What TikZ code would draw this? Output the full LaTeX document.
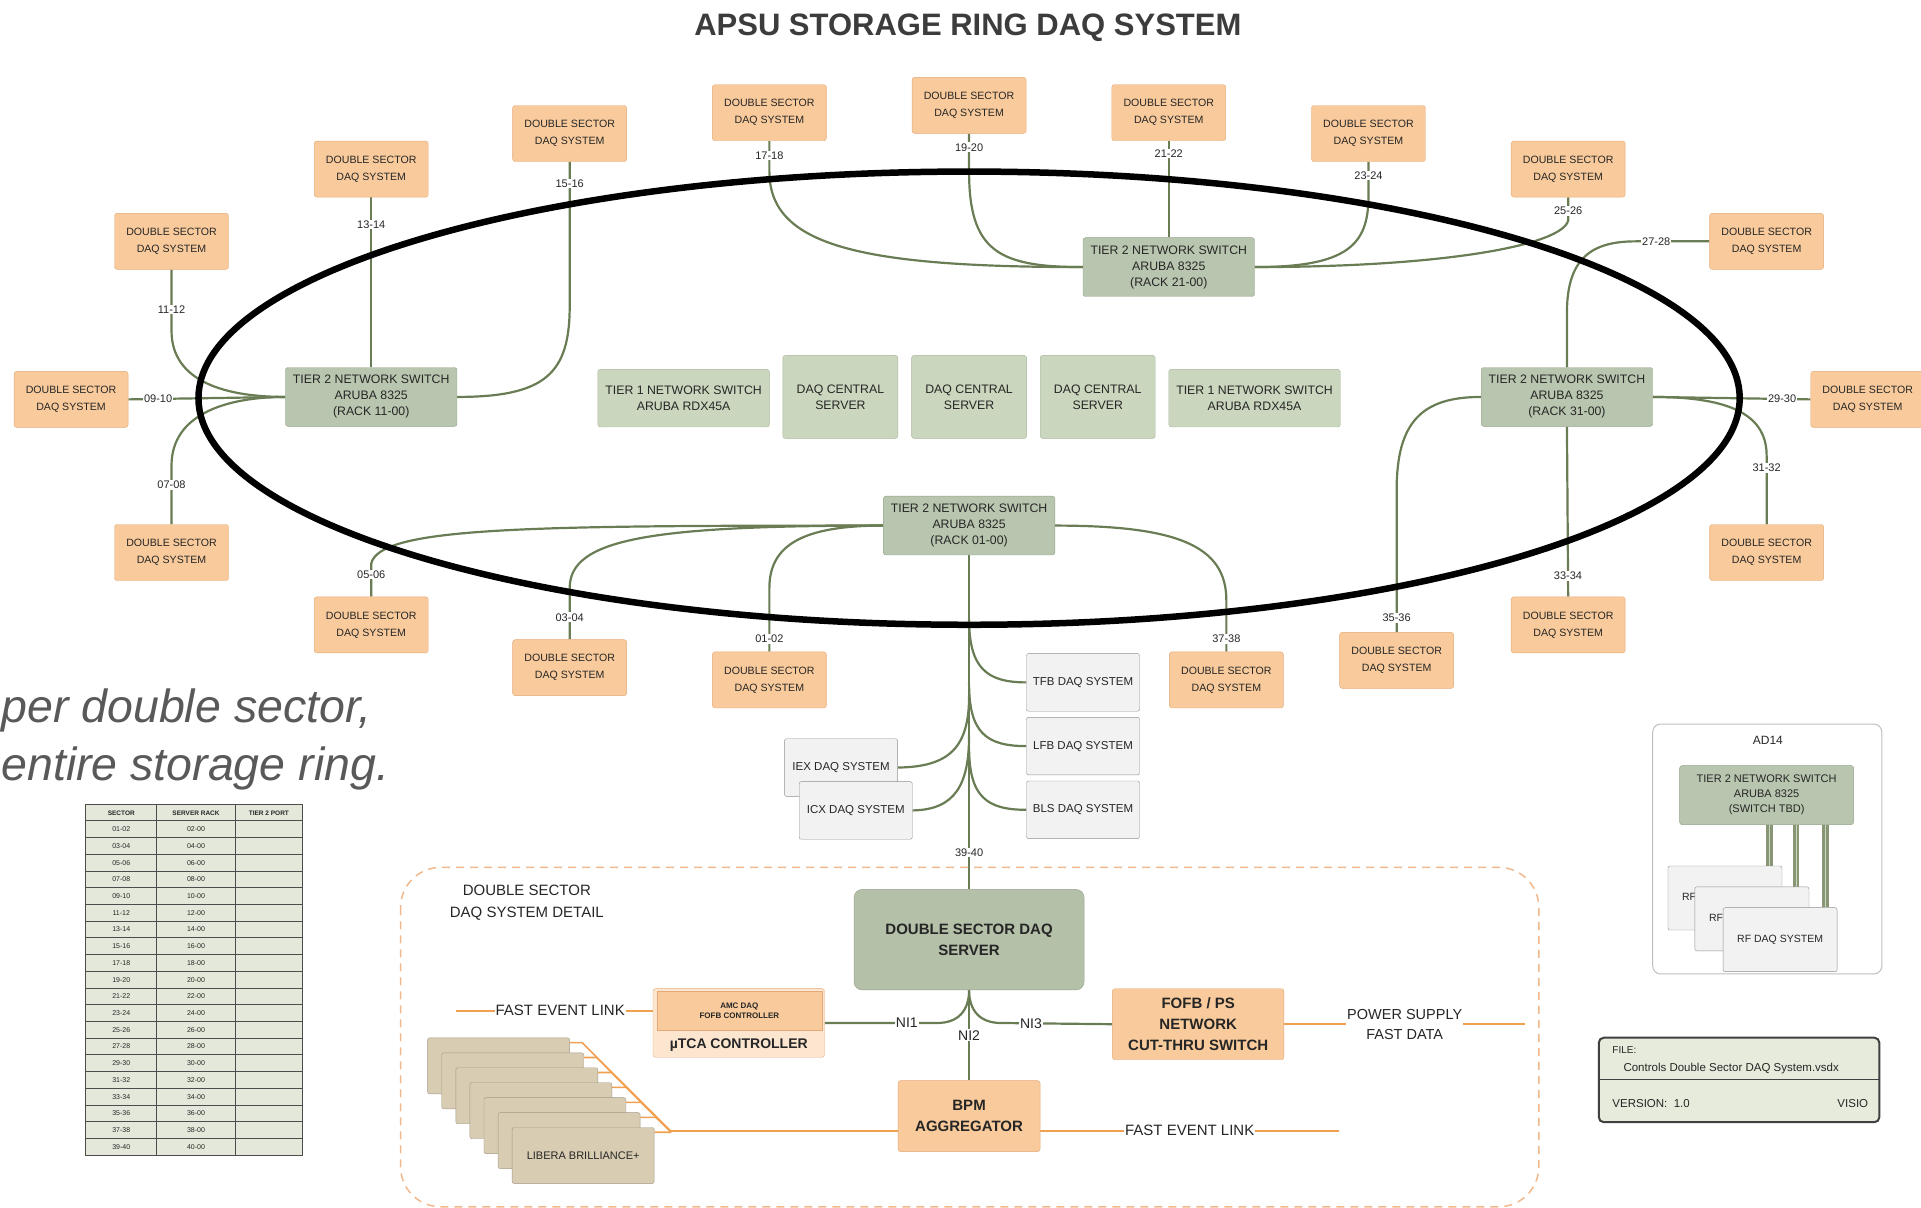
\documentclass[tikz,border=0pt]{standalone}
\usepackage{fontspec}
\setmainfont{Liberation Sans}
\usetikzlibrary{calc}
\definecolor{dsf}{HTML}{F9CB9C}
\definecolor{dsb}{HTML}{E3AA78}
\definecolor{tf}{HTML}{B9C6AF}
\definecolor{tb}{HTML}{93A288}
\definecolor{tlf}{HTML}{CAD6BD}
\definecolor{tlb}{HTML}{A8B69B}
\definecolor{srvf}{HTML}{B4C0A8}
\definecolor{gbf}{HTML}{F2F2F2}
\definecolor{gbb}{HTML}{8F8F8F}
\definecolor{cn}{HTML}{6A7C54}
\definecolor{olc}{HTML}{F0A050}
\definecolor{txt}{HTML}{262626}
\definecolor{libf}{HTML}{D8CCB2}
\definecolor{libb}{HTML}{A39A88}
\definecolor{tabf}{HTML}{E3E8DA}
\definecolor{filef}{HTML}{E6EBDC}
\definecolor{utf}{HTML}{FDE6D0}
\definecolor{dashc}{HTML}{F0B88C}
\definecolor{gtxt}{HTML}{595959}
\newcommand\fsz[2]{\fontsize{#1}{#2}\selectfont}
\pgfdeclarelayer{bg}
\pgfsetlayers{bg,main}
\begin{document}
\begin{tikzpicture}[x=1.2251pt,y=-1.2251pt,
  ds/.style={draw=dsb,fill=dsf,rounded corners=2.5pt,minimum width=114pt,minimum height=56pt,inner sep=1pt,align=center,text=txt,font=\fsz{10.6}{17}},
  tsw/.style={draw=tb,fill=tf,rounded corners=2.5pt,minimum width=171.5pt,minimum height=58.8pt,inner sep=1pt,align=center,text=txt,font=\fsz{12.3}{16}},
  tone/.style={draw=tlb,fill=tlf,rounded corners=2.5pt,minimum width=171.5pt,minimum height=57.6pt,inner sep=1pt,align=center,text=txt,font=\fsz{12.3}{16}},
  dcs/.style={draw=tlb,fill=tlf,rounded corners=2.5pt,minimum width=115pt,minimum height=83pt,inner sep=1pt,align=center,text=txt,font=\fsz{12.3}{16}},
  gb/.style={draw=gbb,fill=gbf,rounded corners=2pt,minimum width=113pt,minimum height=57.6pt,inner sep=1pt,align=center,text=txt,font=\fsz{11.5}{14}},
  conn/.style={draw=cn,line width=2.2pt},
  lbl/.style={fill=white,inner sep=1pt,text=txt,font=\fsz{11}{11}},
  oline/.style={draw=olc,line width=2.2pt},
  ob/.style={draw=dsb,fill=dsf,rounded corners=2.5pt,inner sep=1pt,align=center,text=txt,font=\bfseries\fsz{15}{21}},
  lib/.style={draw=libb,fill=libf,rounded corners=2pt,minimum width=142pt,minimum height=56pt,inner sep=1pt,text=txt,font=\fsz{11}{13}},
  tcell/.style={inner sep=0pt,text=txt,font=\fsz{7}{8}},
  rfl/.style={draw=cn!80,line width=3pt,double=tlf,double distance=0.8pt}
]
\useasboundingbox (0,0) rectangle (1568,986);
\clip (0,0) rectangle (1568,986);

% title
\node[text=txt!90,font=\bfseries\fsz{31}{31}] (title) at (790,23) {APSU STORAGE RING DAQ SYSTEM};

% double sector boxes
\node[ds] (d0910) at (58,326) {DOUBLE SECTOR\\DAQ SYSTEM};
\node[ds] (d1112) at (140,197) {DOUBLE SECTOR\\DAQ SYSTEM};
\node[ds] (d1314) at (303,138) {DOUBLE SECTOR\\DAQ SYSTEM};
\node[ds] (d1516) at (465,109) {DOUBLE SECTOR\\DAQ SYSTEM};
\node[ds] (d1718) at (628,92) {DOUBLE SECTOR\\DAQ SYSTEM};
\node[ds] (d1920) at (791,86) {DOUBLE SECTOR\\DAQ SYSTEM};
\node[ds] (d2122) at (954,92) {DOUBLE SECTOR\\DAQ SYSTEM};
\node[ds] (d2324) at (1117,109) {DOUBLE SECTOR\\DAQ SYSTEM};
\node[ds] (d2526) at (1280,138) {DOUBLE SECTOR\\DAQ SYSTEM};
\node[ds] (d2728) at (1442,197) {DOUBLE SECTOR\\DAQ SYSTEM};
\node[ds] (d2930) at (1524.5,326) {DOUBLE SECTOR\\DAQ SYSTEM};
\node[ds] (d3132) at (1442,451) {DOUBLE SECTOR\\DAQ SYSTEM};
\node[ds] (d3334) at (1280,510) {DOUBLE SECTOR\\DAQ SYSTEM};
\node[ds] (d3536) at (1140,539) {DOUBLE SECTOR\\DAQ SYSTEM};
\node[ds] (d3738) at (1001,555) {DOUBLE SECTOR\\DAQ SYSTEM};
\node[ds] (d0102) at (628,555) {DOUBLE SECTOR\\DAQ SYSTEM};
\node[ds] (d0304) at (465,545) {DOUBLE SECTOR\\DAQ SYSTEM};
\node[ds] (d0506) at (303,510) {DOUBLE SECTOR\\DAQ SYSTEM};
\node[ds] (d0708) at (140,451) {DOUBLE SECTOR\\DAQ SYSTEM};

% tier 2 switches
\node[tsw] (L) at (303,324) {TIER 2 NETWORK SWITCH\\ARUBA 8325\\(RACK 11-00)};
\node[tsw] (T) at (954,218) {TIER 2 NETWORK SWITCH\\ARUBA 8325\\(RACK 21-00)};
\node[tsw] (R) at (1279,324) {TIER 2 NETWORK SWITCH\\ARUBA 8325\\(RACK 31-00)};
\node[tsw] (B) at (791,429) {TIER 2 NETWORK SWITCH\\ARUBA 8325\\(RACK 01-00)};

% center row
\node[tone] (t1a) at (558,325) {TIER 1 NETWORK SWITCH\\ARUBA RDX45A};
\node[dcs] (dc1) at (686,324) {DAQ CENTRAL\\SERVER};
\node[dcs] (dc2) at (791,324) {DAQ CENTRAL\\SERVER};
\node[dcs] (dc3) at (896,324) {DAQ CENTRAL\\SERVER};
\node[tone] (t1b) at (1024,325) {TIER 1 NETWORK SWITCH\\ARUBA RDX45A};

% other DAQ systems
\node[gb] (tfb) at (884,557) {TFB DAQ SYSTEM};
\node[gb] (lfb) at (884,609) {LFB DAQ SYSTEM};
\node[gb] (bls) at (884,661) {BLS DAQ SYSTEM};
\node[gb] (iex) at (686.5,626.5) {IEX DAQ SYSTEM};
\node[gb] (icx) at (698.5,661.5) {ICX DAQ SYSTEM};

% detail
\node[draw=srvf!85!black,fill=srvf,rounded corners=8pt,minimum width=230pt,minimum height=100.5pt,align=center,text=txt,font=\bfseries\fsz{15}{21}] (srv) at (791,767) {DOUBLE SECTOR DAQ\\SERVER};
\node[draw=dsb,fill=utf,rounded corners=2.5pt,minimum width=171.5pt,minimum height=68.6pt,
  label={[anchor=south,yshift=3pt,text=txt,font=\bfseries\fsz{14}{14}]south:µTCA CONTROLLER}] (utca) at (603,835) {};
\node[draw=dsb,fill=dsf,minimum width=165pt,minimum height=39pt,align=center,text=txt,font=\bfseries\fsz{8}{10},inner sep=1pt] (amc) at (603.5,825) {AMC DAQ\\FOFB CONTROLLER};
\node[ob,minimum width=171.5pt,minimum height=71pt] (fofb) at (978,836) {FOFB / PS\\NETWORK\\CUT-THRU SWITCH};
\node[ob,minimum width=142pt,minimum height=71pt] (bpm) at (791,911) {BPM\\AGGREGATOR};
\foreach \k in {0,...,6}{
  \node[lib] (lib\k) at ({407+11.5*\k},{870+12.2*\k}) {LIBERA BRILLIANCE+};
}
\node[align=center,text=txt,font=\fsz{15}{22}] (dtitle) at (430,737) {DOUBLE SECTOR\\DAQ SYSTEM DETAIL};
\coordinate (fel1) at (372,825);
\coordinate (psend) at (1245,836);
\coordinate (fel2) at (1093,923);
\coordinate (M) at (547,923);

% trunk coordinates
\coordinate (tb1) at (791,505);
\coordinate (tb2) at (791,558);
\coordinate (tb3) at (791,610);
\coordinate (tb4) at (791,568);
\coordinate (tb5) at (791,600);

% AD14 nodes
\node[text=txt,font=\fsz{12}{12}] (ad14) at (1443,604) {AD14};
\node[tsw,minimum width=174pt,minimum height=59pt,font=\fsz{11}{15}] (ad14sw) at (1442,649) {TIER 2 NETWORK SWITCH\\ARUBA 8325\\(SWITCH TBD)};
\node[gb,minimum width=114pt,minimum height=64pt,font=\fsz{10.5}{12}] (rf1) at (1408,733) {RF DAQ SYSTEM};
\node[gb,minimum width=114pt,minimum height=64pt,font=\fsz{10.5}{12}] (rf2) at (1430,750) {RF DAQ SYSTEM};
\node[gb,minimum width=114pt,minimum height=64pt,font=\fsz{10.5}{12}] (rf3) at (1453,767) {RF DAQ SYSTEM};

\begin{pgfonlayer}{bg}
% left switch
\draw[conn] (L.west) -- node[lbl,pos=0.81]{09-10} (d0910.east);
\draw[conn] (d1112.south) -- node[lbl,pos=0.65]{11-12} (140,270) .. controls (140,312) and (185,324) .. (L.west);
\draw[conn] (d0708.north) -- node[lbl,pos=0.67]{07-08} (140,380) .. controls (140,338) and (185,324) .. (L.west);
\draw[conn] (d1314.south) -- node[lbl,pos=0.16]{13-14} (L.north);
\draw[conn] (L.east) .. controls (445,324) and (465,305) .. (465,250) -- node[lbl,pos=0.85]{15-16} (d1516.south);
% top switch
\draw[conn] (d1718.south) -- node[lbl,pos=0.48]{17-18} (628,140) .. controls (628,200) and (700,218) .. (T.west);
\draw[conn] (d1920.south) -- node[lbl,pos=0.36]{19-20} (791,140) .. controls (791,205) and (815,218) .. (T.west);
\draw[conn] (d2122.south) -- node[lbl,pos=0.13]{21-22} (T.north);
\draw[conn] (T.east) .. controls (1100,218) and (1117,200) .. (1117,160) -- node[lbl,pos=0.6]{23-24} (d2324.south);
\draw[conn] (T.east) .. controls (1180,218) and (1275,200) .. (1280,180) -- node[lbl,pos=0.42]{25-26} (d2526.south);
% right switch
\draw[conn] (R.north) -- (1279,255) .. controls (1279,210) and (1300,197) .. (1335,197) -- node[lbl,pos=0.28]{27-28} (d2728.west);
\draw[conn] (R.east) -- node[lbl,pos=0.82]{29-30} (d2930.west);
\draw[conn] (R.east) .. controls (1415,324) and (1442,340) .. (1442,372) -- node[lbl,pos=0.18]{31-32} (d3132.north);
\draw[conn] (R.south) -- node[lbl,pos=0.88]{33-34} (d3334.north);
\draw[conn] (R.west) .. controls (1160,324) and (1140,345) .. (1140,400) -- node[lbl,pos=0.9]{35-36} (d3536.north);
% bottom switch
\draw[conn] (B.west) .. controls (655,429) and (628,445) .. (628,480) -- node[lbl,pos=0.8]{01-02} (d0102.north);
\draw[conn] (B.west) .. controls (530,429) and (465,440) .. (465,480) -- node[lbl,pos=0.57]{03-04} (d0304.north);
\draw[conn] (B.west) .. controls (430,429) and (310,430) .. (303,460) -- node[lbl,pos=0.33]{05-06} (d0506.north);
\draw[conn] (B.east) .. controls (960,429) and (1001,445) .. (1001,490) -- node[lbl,pos=0.75]{37-38} (d3738.north);
% branches from trunk
\draw[conn] (tb1) .. controls (791,545) and (805,557) .. (tfb.west);
\draw[conn] (tb2) .. controls (791,598) and (805,609) .. (lfb.west);
\draw[conn] (tb3) .. controls (791,650) and (805,661) .. (bls.west);
\draw[conn] (iex.east) .. controls (775,626) and (791,610) .. (tb4);
\draw[conn] (icx.east) .. controls (780,661) and (791,640) .. (tb5);
\draw[conn,line width=2.8pt] (B.south) -- node[lbl,pos=0.89]{39-40} (srv.north);
% ellipse
\draw[line width=6.5pt,black] (791,325) ellipse [x radius=770.6pt, y radius=226.6pt];
% detail frame
\draw[dashc,line width=1.5pt,dash pattern=on 8pt off 6pt,rounded corners=40pt] (327,708) rectangle (1256,985);
% detail links
\draw[conn] (utca.east) -- node[lbl,pos=0.73,font=\fsz{14}{14}]{NI1} (765,835) .. controls (782,835) and (791,825) .. (srv.south);
\draw[conn] (srv.south) .. controls (791,825) and (800,835) .. (817,835) -- node[lbl,pos=0.27,font=\fsz{14}{14}]{NI3} (fofb.west);
\draw[conn] (srv.south) -- node[lbl,pos=0.5,font=\fsz{14}{14}]{NI2} (bpm.north);
\draw[oline] (fel1) -- node[lbl,pos=0.52,font=\fsz{15}{15}]{FAST EVENT LINK} (amc.west);
\draw[oline] (fofb.east) -- node[lbl,pos=0.5,align=center,font=\fsz{14.5}{20}]{POWER SUPPLY\\FAST DATA} (psend);
\draw[oline] ($(bpm.east)+(0,12)$) -- node[lbl,pos=0.5,font=\fsz{15}{15}]{FAST EVENT LINK} (fel2);
\draw[oline] (M) -- ($(bpm.west)+(0,12)$);
\foreach \k in {0,...,6}{
  \draw[oline,line width=1.6pt] ($(lib\k.north east)+(0,4)$) -- ++({10+0.53*\k},0) -- (M);
}
% AD14 frame and links
\draw[draw=black!25,line width=1pt,fill=white,rounded corners=8pt] (1349,591) rectangle (1536,795);
\draw[rfl] (ad14sw.south) ++(2,0) coordinate (a1) -- (a1 |- rf1.north);
\draw[rfl] (ad14sw.south) ++(24,0) coordinate (a2) -- (a2 |- rf2.north);
\draw[rfl] (ad14sw.south) ++(48,0) coordinate (a3) -- (a3 |- rf3.north);
\end{pgfonlayer}

% italic note
\node[anchor=base west,inner sep=0pt,text=gtxt,font=\itshape\fsz{46.5}{50}] (note1) at (1,590) {per double sector,};
\node[anchor=base west,inner sep=0pt,text=gtxt,font=\itshape\fsz{46.5}{50}] (note2) at (1,637) {entire storage ring.};

% table
\fill[tabf] (70,657) rectangle (247,943);
\foreach \i in {0,...,20}{
  \draw[black!70,line width=1pt] (70,{670+13.65*\i}) -- (247,{670+13.65*\i});
}
\draw[black!70,line width=1pt] (70,657) rectangle (247,943);
\draw[black!70,line width=1pt] (128,657) -- (128,943) (192,657) -- (192,943);
\node[tcell,font=\bfseries\fsz{6.5}{7}] (th1) at (99,664) {SECTOR};
\node[tcell,font=\bfseries\fsz{6.5}{7}] (th2) at (160,664) {SERVER RACK};
\node[tcell,font=\bfseries\fsz{6.5}{7}] (th3) at (219.5,664) {TIER 2 PORT};
\foreach \i/\s/\r in {0/01-02/02-00,1/03-04/04-00,2/05-06/06-00,3/07-08/08-00,4/09-10/10-00,5/11-12/12-00,6/13-14/14-00,7/15-16/16-00,8/17-18/18-00,9/19-20/20-00,10/21-22/22-00,11/23-24/24-00,12/25-26/26-00,13/27-28/28-00,14/29-30/30-00,15/31-32/32-00,16/33-34/34-00,17/35-36/36-00,18/37-38/38-00,19/39-40/40-00}{
  \node[tcell] (ts\i) at (99,{676.8+13.65*\i}) {\s};
  \node[tcell] (tr\i) at (160,{676.8+13.65*\i}) {\r};
}

% file box
\draw[fill=filef,draw=black!75,line width=2pt,rounded corners=5pt] (1305,847) rectangle (1534,916);
\draw[black!75,line width=1.5pt] (1305,881) -- (1534,881);
\node[anchor=west,inner sep=0pt,text=txt,font=\fsz{10}{10}] (filel) at (1316,857) {FILE:};
\node[anchor=west,inner sep=0pt,text=txt,font=\fsz{11.5}{12}] (filen) at (1325,872) {Controls Double Sector DAQ System.vsdx};
\node[anchor=west,inner sep=0pt,text=txt,font=\fsz{11.5}{12}] (ver) at (1316,901) {VERSION:\ \ 1.0};
\node[anchor=east,inner sep=0pt,text=txt,font=\fsz{11.5}{12}] (visio) at (1525,901) {VISIO};
\end{tikzpicture}
\end{document}
